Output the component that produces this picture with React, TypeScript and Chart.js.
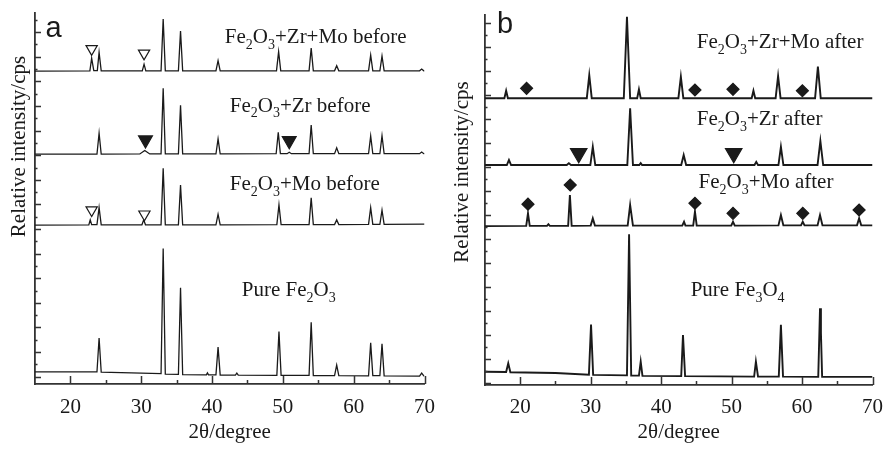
import React, { useEffect, useRef } from 'react';
import { Chart, registerables } from 'chart.js';

Chart.register(...registerables);

// ---------- DATA ----------
const X_TICKS = [20, 30, 40, 50, 60, 70];
const X_MINOR = [25, 35, 45, 55, 65];
const Y_MAJOR_A = [0, 1, 2, 3, 4, 5, 6, 7, 8, 9, 10, 11, 12, 13, 14];
const Y_MAJOR_B = [0, 1, 2, 3, 4, 5, 6, 7, 8, 9, 10, 11, 12, 13, 14, 15];

const X_TITLE = '2θ/degree';
const Y_TITLE = 'Relative intensity/cps';

const LABELS_A = ['Fe_2O_3+Zr+Mo before', 'Fe_2O_3+Zr before', 'Fe_2O_3+Mo before', 'Pure Fe_2O_3'];
const LABELS_B = ['Fe_2O_3+Zr+Mo after', 'Fe_2O_3+Zr after', 'Fe_2O_3+Mo after', 'Pure Fe_3O_4'];

// Panel a traces [2θ, intensity]
const PURE_FE2O3 = [
  [15, 0.19], [23.75, 0.19], [24.05, 1.57], [24.35, 0.18], [32.8, 0.12], [33.1, 5.21], [33.4, 0.10],
  [35.25, 0.09], [35.55, 3.61], [35.85, 0.08], [39.2, 0.07], [39.35, 0.15], [39.5, 0.07], [40.55, 0.07],
  [40.85, 1.20], [41.15, 0.06], [43.3, 0.06], [43.5, 0.14], [43.7, 0.06], [49.15, 0.05], [49.45, 1.83],
  [49.75, 0.05], [53.7, 0.05], [54.0, 2.21], [54.3, 0.04], [57.3, 0.04], [57.6, 0.47], [57.9, 0.04],
  [62.1, 0.03], [62.4, 1.37], [62.7, 0.04], [63.7, 0.04], [64.0, 1.33], [64.3, 0.03], [69.3, 0.02],
  [69.6, 0.14], [69.9, 0.03], [70, 0.03],
];
const MO_BEFORE = [
  [15, 6.16], [22.6, 6.17], [22.8, 6.37], [23.0, 6.18], [23.75, 6.18], [24.05, 6.87], [24.35, 6.17],
  [30.1, 6.17], [30.35, 6.37], [30.6, 6.17], [32.8, 6.17], [33.1, 8.47], [33.4, 6.17], [35.25, 6.17],
  [35.55, 7.79], [35.85, 6.17], [40.55, 6.17], [40.85, 6.60], [41.15, 6.17], [49.15, 6.18], [49.45, 6.98],
  [49.75, 6.18], [53.7, 6.18], [54.0, 7.27], [54.3, 6.18], [57.3, 6.18], [57.6, 6.37], [57.9, 6.18],
  [62.1, 6.19], [62.4, 6.87], [62.7, 6.19], [63.7, 6.19], [64.0, 6.77], [64.3, 6.19], [70, 6.2],
];
const ZR_BEFORE = [
  [15, 9.04], [23.75, 9.04], [24.05, 9.89], [24.35, 9.04], [29.8, 9.05], [30.5, 9.19], [31.2, 9.05],
  [32.8, 9.05], [33.1, 11.72], [33.4, 9.05], [35.25, 9.05], [35.55, 11.03], [35.85, 9.05], [40.55, 9.05],
  [40.85, 9.66], [41.15, 9.05], [49.05, 9.06], [49.35, 9.93], [49.65, 9.06], [50.6, 9.06], [50.9, 9.12],
  [51.2, 9.06], [53.7, 9.06], [54.0, 10.23], [54.3, 9.06], [57.3, 9.06], [57.6, 9.30], [57.9, 9.06],
  [62.1, 9.06], [62.4, 9.78], [62.7, 9.06], [63.7, 9.06], [64.0, 9.79], [64.3, 9.06], [69.3, 9.06],
  [69.6, 9.13], [69.9, 9.06], [70, 9.06],
];
const ZRMO_BEFORE = [
  [15, 12.42], [22.75, 12.43], [23.0, 12.94], [23.3, 12.44], [23.8, 12.44], [24.05, 13.18], [24.35, 12.43],
  [30.15, 12.43], [30.4, 12.70], [30.65, 12.43], [32.8, 12.43], [33.1, 14.54], [33.4, 12.43], [35.25, 12.43],
  [35.55, 14.05], [35.85, 12.43], [40.55, 12.43], [40.85, 12.84], [41.15, 12.43], [49.1, 12.43], [49.4, 13.21],
  [49.7, 12.43], [53.7, 12.43], [54.0, 13.35], [54.3, 12.43], [57.3, 12.43], [57.6, 12.64], [57.9, 12.43],
  [62.1, 12.43], [62.4, 13.07], [62.7, 12.43], [63.7, 12.43], [64.0, 13.03], [64.3, 12.43], [69.3, 12.43],
  [69.6, 12.5], [69.9, 12.43], [70, 12.43],
];
const OPEN_TRI_A = [[23.0, 13.32], [30.4, 13.14], [23.0, 6.77], [30.45, 6.60]];
const FILLED_TRI_A = [[30.6, 9.62], [50.9, 9.59]];

// Panel b traces
const PURE_FE3O4 = [
  [15, 0.48], [18.0, 0.47], [18.3, 0.83], [18.6, 0.46], [25, 0.43], [29.75, 0.36], [30.05, 2.45], [30.35, 0.35],
  [35.15, 0.33], [35.45, 6.20], [35.75, 0.32], [36.85, 0.32], [37.1, 0.90], [37.35, 0.31], [42.85, 0.30],
  [43.1, 2.01], [43.4, 0.30], [53.2, 0.28], [53.45, 0.90], [53.75, 0.28], [56.7, 0.28], [57.0, 2.43],
  [57.3, 0.28], [62.3, 0.27], [62.55, 3.12], [62.68, 2.1], [62.85, 0.27], [70, 0.27],
];
const MO_AFTER = [
  [15, 6.54], [20.85, 6.55], [21.1, 7.07], [21.35, 6.55], [23.8, 6.55], [24.0, 6.62], [24.2, 6.55],
  [26.8, 6.55], [27.05, 7.83], [27.3, 6.55], [30.0, 6.56], [30.3, 6.86], [30.6, 6.56], [35.25, 6.56],
  [35.6, 7.42], [36.0, 6.56], [43.0, 6.56], [43.25, 6.72], [43.45, 6.56], [44.55, 6.56], [44.8, 7.14],
  [45.05, 6.56], [49.95, 6.56], [50.2, 6.72], [50.45, 6.56], [56.65, 6.57], [57.0, 7.00], [57.35, 6.57],
  [59.85, 6.57], [60.1, 6.72], [60.35, 6.57], [62.2, 6.57], [62.55, 7.00], [62.9, 6.57], [67.8, 6.57],
  [68.1, 6.86], [68.4, 6.57], [70, 6.57],
];
const ZR_AFTER = [
  [15, 9.08], [18.1, 9.08], [18.4, 9.29], [18.7, 9.08], [26.6, 9.08], [26.9, 9.15], [27.2, 9.08],
  [29.95, 9.08], [30.3, 9.84], [30.65, 9.08], [35.2, 9.08], [35.6, 11.44], [36.0, 9.08], [36.9, 9.08],
  [37.1, 9.16], [37.3, 9.08], [42.85, 9.08], [43.2, 9.50], [43.55, 9.08], [53.25, 9.08], [53.5, 9.21],
  [53.75, 9.08], [56.65, 9.08], [57.0, 9.84], [57.35, 9.08], [62.2, 9.08], [62.6, 10.08], [63.0, 9.08],
  [70, 9.08],
];
const ZRMO_AFTER = [
  [15, 11.86], [17.75, 11.86], [18.0, 12.17], [18.25, 11.86], [29.45, 11.86], [29.8, 12.82], [30.15, 11.86],
  [34.7, 11.86], [35.15, 15.25], [35.6, 11.86], [36.6, 11.86], [36.85, 12.23], [37.1, 11.86], [42.45, 11.86],
  [42.8, 12.75], [43.15, 11.86], [52.85, 11.86], [53.1, 12.17], [53.35, 11.86], [56.25, 11.86], [56.6, 12.78],
  [56.95, 11.86], [61.85, 11.86], [62.25, 13.17], [62.65, 11.86], [70, 11.86],
];
const DIAMONDS_B = [
  [20.9, 12.27], [44.8, 12.2], [50.2, 12.23], [60.05, 12.17],
  [21.1, 7.45], [27.1, 8.25], [44.8, 7.49], [50.2, 7.07], [60.1, 7.07], [68.1, 7.21],
];
const FILLED_TRI_B = [[28.3, 9.57], [50.3, 9.57]];

// ---------- RENDERING ----------
const SERIF = '"Liberation Serif", "Times New Roman", serif';
const INK = '#1a1a1a';

function toXY(arr: number[][]) {
  return arr.map(([x, y]) => ({ x, y }));
}

function drawChem(ctx: CanvasRenderingContext2D, text: string, x: number, y: number, size: number) {
  let cx = x;
  let i = 0;
  ctx.textAlign = 'left';
  ctx.textBaseline = 'alphabetic';
  while (i < text.length) {
    if (text[i] === '_') {
      const d = text[i + 1];
      ctx.font = `${Math.round(size * 0.68)}px ${SERIF}`;
      ctx.fillText(d, cx, y + size * 0.27);
      cx += ctx.measureText(d).width;
      i += 2;
    } else {
      let j = i;
      while (j < text.length && text[j] !== '_') j++;
      const run = text.slice(i, j);
      ctx.font = `${size}px ${SERIF}`;
      ctx.fillText(run, cx, y);
      cx += ctx.measureText(run).width;
      i = j;
    }
  }
}

type PanelCfg = {
  width: number;
  left: number;
  padTop: number;
  padRight: number;
  yAxisWidth: number;
  xAxisHeight: number;
  yMin: number;
  yMax: number;
  yMajor: number[];
  tickPad: number;
  letter: string;
  letterPos: [number, number];
  labels: string[];
  labelPos: [number, number][];
  yTitlePx: [number, number];
  traces: number[][][];
  lineWidth: number;
  markers: { data: number[][]; style: string; radius: number; fill: string }[];
};

function makeDecor(cfg: PanelCfg) {
  return {
    id: 'decor',
    afterDraw(chart: any) {
      const ctx: CanvasRenderingContext2D = chart.ctx;
      const xs = chart.scales.x;
      const ys = chart.scales.y;
      const area = chart.chartArea;
      ctx.save();
      ctx.strokeStyle = '#333';
      ctx.lineWidth = 1.5;
      ctx.beginPath();
      X_TICKS.forEach((v) => {
        const p = Math.round(xs.getPixelForValue(v)) + 0.5;
        ctx.moveTo(p, area.bottom);
        ctx.lineTo(p, area.bottom - 8);
      });
      X_MINOR.forEach((v) => {
        const p = Math.round(xs.getPixelForValue(v)) + 0.5;
        ctx.moveTo(p, area.bottom);
        ctx.lineTo(p, area.bottom - 4);
      });
      cfg.yMajor.forEach((v) => {
        const p = Math.round(ys.getPixelForValue(v)) + 0.5;
        if (p < area.top || p > area.bottom) return;
        ctx.moveTo(area.left, p);
        ctx.lineTo(area.left + 6, p);
        const pm = Math.round(ys.getPixelForValue(v + 0.5)) + 0.5;
        if (pm >= area.top) {
          ctx.moveTo(area.left, pm);
          ctx.lineTo(area.left + 2.5, pm);
        }
      });
      ctx.stroke();

      ctx.fillStyle = INK;
      cfg.labels.forEach((t, i) => {
        const [lx, ly] = cfg.labelPos[i];
        drawChem(ctx, t, xs.getPixelForValue(lx), ys.getPixelForValue(ly), 21);
      });

      ctx.font = `29px "Liberation Sans", Arial, sans-serif`;
      ctx.textAlign = 'left';
      ctx.textBaseline = 'alphabetic';
      ctx.fillText(cfg.letter, xs.getPixelForValue(cfg.letterPos[0]), ys.getPixelForValue(cfg.letterPos[1]));

      ctx.translate(cfg.yTitlePx[0], cfg.yTitlePx[1]);
      ctx.rotate(-Math.PI / 2);
      ctx.font = `21px ${SERIF}`;
      ctx.textAlign = 'center';
      ctx.textBaseline = 'middle';
      ctx.fillText(Y_TITLE, 0, 0);
      ctx.restore();
    },
  };
}

function Panel({ cfg }: { cfg: PanelCfg }) {
  const ref = useRef<HTMLCanvasElement>(null);
  useEffect(() => {
    if (!ref.current) return;
    const datasets: any[] = cfg.traces.map((t) => ({
      type: 'line',
      data: toXY(t),
      borderColor: INK,
      borderWidth: cfg.lineWidth,
      pointRadius: 0,
      tension: 0,
      fill: false,
      order: 2,
    }));
    cfg.markers.forEach((m) => {
      datasets.push({
        type: 'line',
        data: toXY(m.data),
        showLine: false,
        pointStyle: m.style,
        pointRotation: m.style === 'triangle' ? 180 : 0,
        pointRadius: m.radius,
        pointBackgroundColor: m.fill,
        pointBorderColor: INK,
        pointBorderWidth: 1.2,
        order: 1,
      });
    });
    const chart = new Chart(ref.current, {
      type: 'line',
      data: { datasets },
      options: {
        animation: false,
        responsive: false,
        devicePixelRatio: 1,
        events: [],
        layout: { padding: { top: cfg.padTop, right: cfg.padRight, left: 0, bottom: 0 } },
        plugins: { legend: { display: false }, tooltip: { enabled: false } },
        scales: {
          x: {
            type: 'linear',
            min: 15,
            max: 70,
            grid: { display: false, drawTicks: false },
            border: { display: true, color: '#333', width: 1.8 },
            ticks: {
              font: { family: SERIF, size: 21 },
              color: INK,
              padding: cfg.tickPad,
              maxRotation: 0,
              autoSkip: false,
            },
            afterBuildTicks: (s: any) => {
              s.ticks = X_TICKS.map((v) => ({ value: v }));
            },
            afterFit: (s: any) => {
              s.height = cfg.xAxisHeight;
            },
            title: {
              display: true,
              text: X_TITLE,
              font: { family: SERIF, size: 21 },
              color: INK,
              padding: { top: 0, bottom: 4 },
            },
          },
          y: {
            type: 'linear',
            min: cfg.yMin,
            max: cfg.yMax,
            grid: { display: false, drawTicks: false },
            border: { display: true, color: '#333', width: 1.8 },
            ticks: { display: false },
            afterFit: (s: any) => {
              s.width = cfg.yAxisWidth;
            },
          },
        },
      } as any,
      plugins: [makeDecor(cfg)],
    });
    return () => chart.destroy();
  }, [cfg]);
  return (
    <canvas
      ref={ref}
      width={cfg.width}
      height={449}
      style={{ position: 'absolute', left: cfg.left, top: 0, width: cfg.width, height: 449 }}
    />
  );
}

const CFG_A: PanelCfg = {
  width: 446,
  left: 0,
  padTop: 13,
  padRight: 17,
  yAxisWidth: 35,
  xAxisHeight: 65,
  yMin: -0.3,
  yMax: 14.78,
  yMajor: Y_MAJOR_A,
  tickPad: 11,
  letter: 'a',
  letterPos: [16.5, 13.8],
  labels: LABELS_A,
  labelPos: [[41.8, 13.55], [42.5, 10.77], [42.5, 7.585], [44.2, 3.28]],
  yTitlePx: [19, 146.5],
  traces: [PURE_FE2O3, MO_BEFORE, ZR_BEFORE, ZRMO_BEFORE],
  lineWidth: 1.3,
  markers: [
    { data: OPEN_TRI_A, style: 'triangle', radius: 6.5, fill: '#ffffff' },
    { data: FILLED_TRI_A, style: 'triangle', radius: 8, fill: INK },
  ],
};

const CFG_B: PanelCfg = {
  width: 444,
  left: 449,
  padTop: 15,
  padRight: 13,
  yAxisWidth: 36,
  xAxisHeight: 64,
  yMin: -0.07,
  yMax: 15.32,
  yMajor: Y_MAJOR_B,
  tickPad: 10,
  letter: 'b',
  letterPos: [16.7, 14.57],
  labels: LABELS_B,
  labelPos: [[45.07, 13.94], [45.07, 10.74], [45.3, 8.11], [44.19, 3.63]],
  yTitlePx: [13, 172],
  traces: [PURE_FE3O4, MO_AFTER, ZR_AFTER, ZRMO_AFTER],
  lineWidth: 1.9,
  markers: [
    { data: DIAMONDS_B, style: 'rectRot', radius: 6, fill: INK },
    { data: FILLED_TRI_B, style: 'triangle', radius: 9.5, fill: INK },
  ],
};

export default function App() {
  return (
    <div style={{ position: 'absolute', left: 0, top: 0, width: 893, height: 449, background: '#fff' }}>
      <Panel cfg={CFG_A} />
      <Panel cfg={CFG_B} />
    </div>
  );
}
